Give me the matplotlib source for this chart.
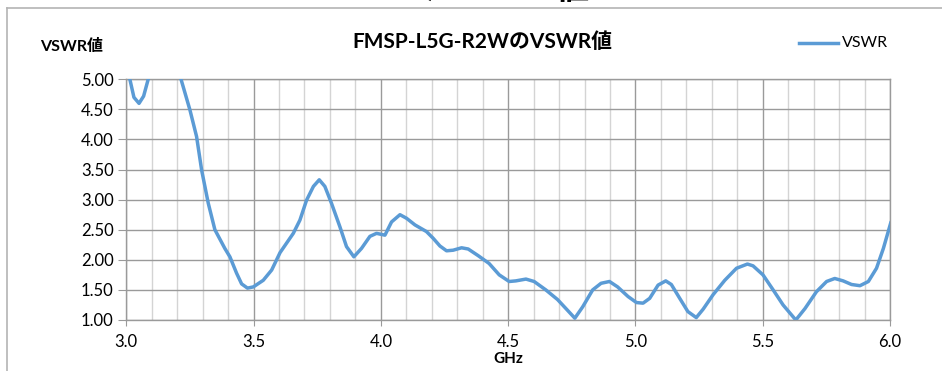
import matplotlib
matplotlib.use("Agg")
import matplotlib.pyplot as plt
from matplotlib.lines import Line2D
from matplotlib.ticker import MultipleLocator, FormatStrFormatter

plt.rcParams['font.family'] = ['Lato', 'Noto Sans CJK JP', 'DejaVu Sans']

title = "FMSP-L5G-R2WのVSWR値"
y_label = "VSWR値"
x_label = "GHz"
series_name = "VSWR"

freq = [3.000, 3.014, 3.030, 3.050, 3.068, 3.086, 3.120, 3.170, 3.215,
        3.250, 3.276, 3.296, 3.322, 3.348, 3.387, 3.407, 3.433, 3.453, 3.476,
        3.499, 3.538, 3.571, 3.604, 3.656, 3.682, 3.708, 3.735, 3.758, 3.780,
        3.806, 3.839, 3.865, 3.894, 3.924, 3.957, 3.983, 4.016, 4.042, 4.075,
        4.101, 4.134, 4.179, 4.205, 4.232, 4.258, 4.284, 4.317, 4.343, 4.382,
        4.425, 4.465, 4.504, 4.530, 4.570, 4.602, 4.648, 4.694, 4.727, 4.762,
        4.793, 4.832, 4.865, 4.898, 4.930, 4.971, 5.004, 5.030, 5.056, 5.089,
        5.119, 5.141, 5.174, 5.206, 5.239, 5.266, 5.305, 5.351, 5.397, 5.440,
        5.462, 5.501, 5.541, 5.580, 5.630, 5.666, 5.711, 5.751, 5.783, 5.816,
        5.849, 5.882, 5.915, 5.947, 5.974, 6.004]
vswr = [5.40, 5.00, 4.70, 4.60, 4.72, 5.00, 5.40, 5.50, 5.00,
        4.49, 4.05, 3.49, 2.94, 2.50, 2.19, 2.05, 1.78, 1.60, 1.53,
        1.55, 1.66, 1.83, 2.12, 2.44, 2.66, 2.99, 3.22, 3.33, 3.22,
        2.94, 2.55, 2.22, 2.05, 2.19, 2.39, 2.44, 2.41, 2.63, 2.75,
        2.69, 2.58, 2.47, 2.36, 2.23, 2.15, 2.16, 2.20, 2.18, 2.07,
        1.94, 1.75, 1.64, 1.65, 1.68, 1.64, 1.50, 1.34, 1.19, 1.03,
        1.22, 1.50, 1.61, 1.64, 1.55, 1.39, 1.29, 1.28, 1.36, 1.58,
        1.65, 1.59, 1.36, 1.14, 1.04, 1.18, 1.42, 1.66, 1.86, 1.93,
        1.90, 1.75, 1.50, 1.25, 1.00, 1.19, 1.47, 1.64, 1.69, 1.65,
        1.59, 1.57, 1.64, 1.86, 2.19, 2.63]

W, H = 942, 371
fig = plt.figure(figsize=(W / 100, H / 100), dpi=100)
ax = fig.add_axes([126.3 / W, 1 - 320 / H, (890 - 126.3) / W, (320 - 79.3) / H])

line_color = '#5B9BD5'
ax.plot(freq, vswr, color=line_color, lw=2.5, solid_joinstyle='round',
        solid_capstyle='round', zorder=3)

ax.set_xlim(3.0, 6.0)
ax.set_ylim(1.0, 5.0)
ax.xaxis.set_major_locator(MultipleLocator(0.5))
ax.xaxis.set_minor_locator(MultipleLocator(0.1))
ax.yaxis.set_major_locator(MultipleLocator(0.5))
ax.xaxis.set_major_formatter(FormatStrFormatter('%.1f'))
ax.yaxis.set_major_formatter(FormatStrFormatter('%.2f'))

ax.grid(which='major', axis='both', color='#9a9a9a', lw=1.0, zorder=1)
ax.grid(which='minor', axis='x', color='#d4d4d4', lw=1.0, zorder=0)
for s in ax.spines.values():
    s.set_color('#9a9a9a')
    s.set_linewidth(1.0)

ax.tick_params(axis='x', which='major', length=4, color='#9a9a9a', labelsize=12, pad=6)
ax.tick_params(axis='x', which='minor', length=0)
ax.tick_params(axis='y', length=6, color='#9a9a9a', labelsize=12, pad=3)

# Titles and labels
fig.text(482 / W, 1 - 42 / H, title, ha='center', va='center', fontsize=15,
         fontweight='bold')
fig.text(72 / W, 1 - 46 / H, y_label, ha='center', va='center', fontsize=11.5,
         fontweight='bold')
fig.text(508 / W, 1 - 359 / H, x_label, ha='center', va='center', fontsize=11,
         fontweight='bold')

# Legend
fig.add_artist(Line2D([799 / W, 838 / W], [1 - 43 / H, 1 - 43 / H],
                      color=line_color, lw=2.5, transform=fig.transFigure))
fig.text(842 / W, 1 - 43 / H, series_name, ha='left', va='center', fontsize=11.5)

# Chart frame (partially cropped)
frame_c = '#b4b4b4'
fig.add_artist(Line2D([7 / W, 1.0], [1 - 8 / H, 1 - 8 / H], color=frame_c, lw=1.2,
                      transform=fig.transFigure))
fig.add_artist(Line2D([7 / W, 7 / W], [0, 1 - 8 / H], color=frame_c, lw=1.2,
                      transform=fig.transFigure))

# Cropped page heading above the chart (only its lowest edge is visible)
fig.text(572 / W, 1 + 1.5 / H, "値", ha='center', va='baseline', fontsize=24,
         fontweight='bold', family=['Noto Sans CJK JP'])
fig.text(431 / W, 1 + 4.0 / H, ")", ha='center', va='baseline', fontsize=24,
         fontweight='bold')

fig.savefig('out.png', dpi=100)
